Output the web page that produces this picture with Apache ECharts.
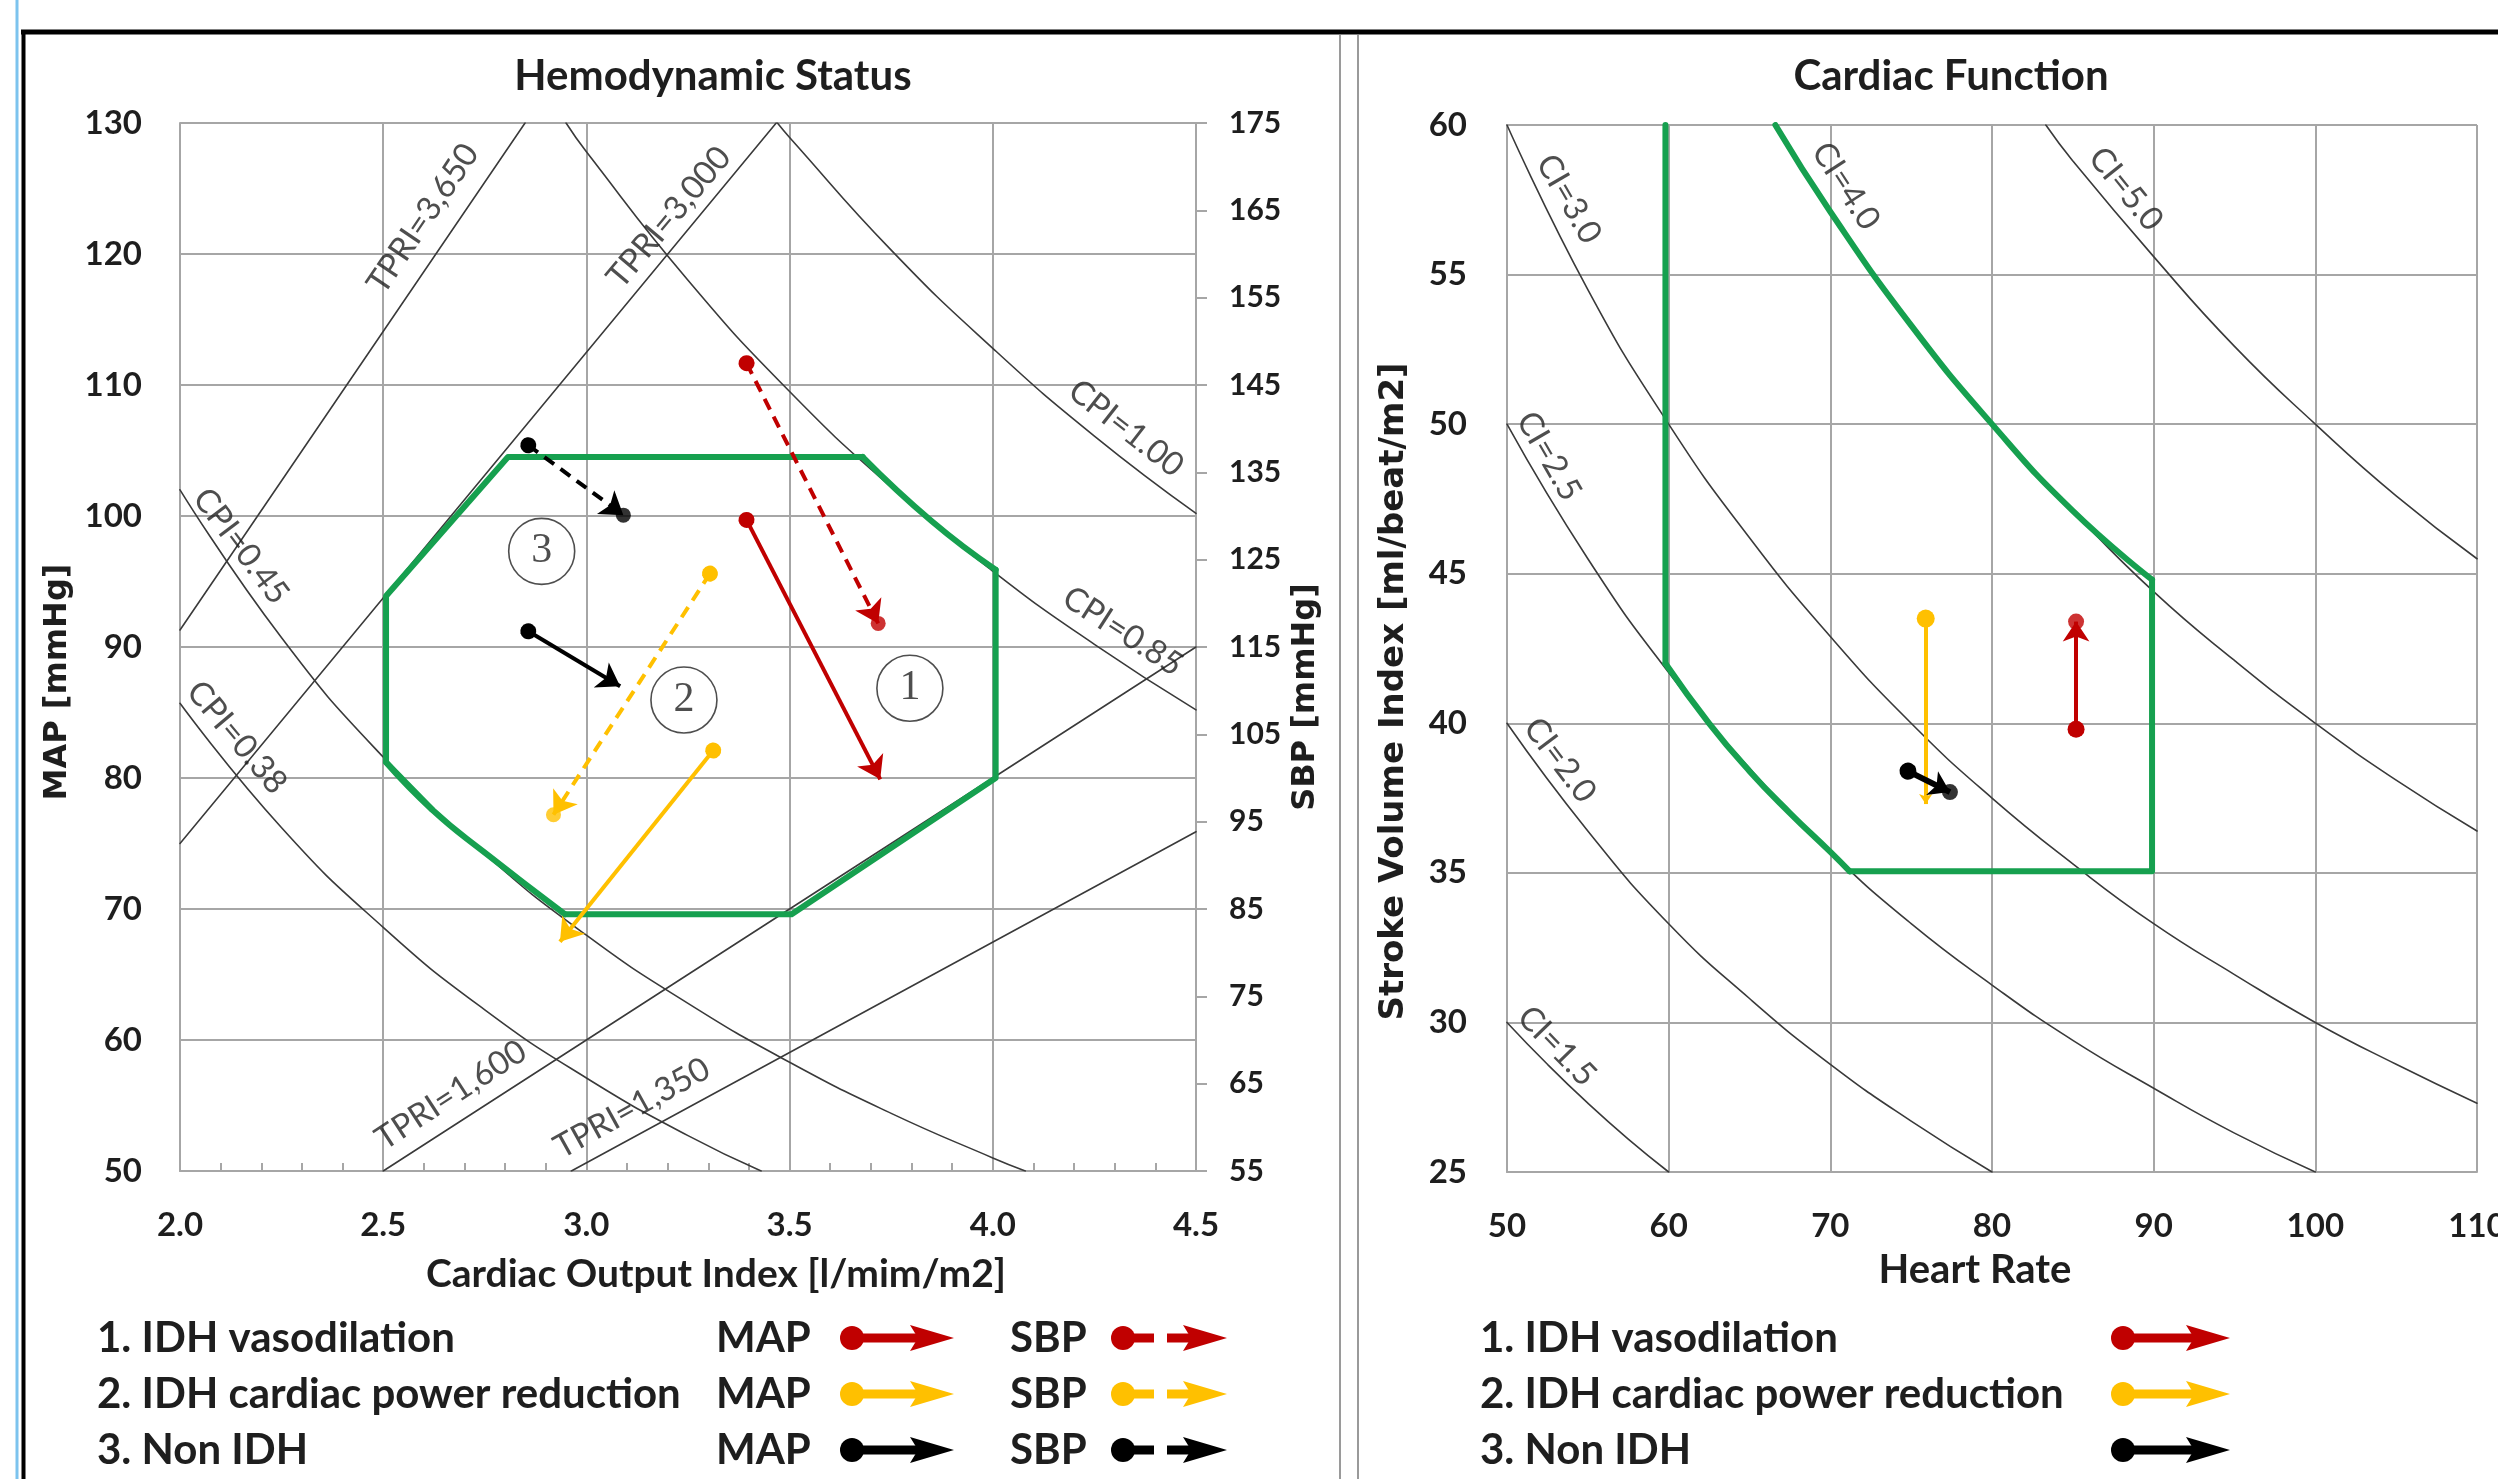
<!DOCTYPE html>
<html><head><meta charset="utf-8">
<script src="https://cdn.jsdelivr.net/npm/echarts@6/dist/echarts.min.js"></script>
<style>html,body{margin:0;padding:0;background:#fff}#main{width:2498px;height:1479px}</style>
</head><body><div id="main"></div>
<script>
// ================= DATA =================
const groupNames = ['1. IDH vasodilation', '2. IDH cardiac power reduction', '3. Non IDH'];

// Hemodynamic Status: x = Cardiac Output Index, left y = MAP, right y = SBP
const hemoTitle = 'Hemodynamic Status';
const mapStart = [[3.394, 99.7], [3.312, 82.1], [2.857, 91.2]];
const mapEnd   = [[3.723, 79.9], [2.935, 67.5], [3.083, 87.0]];
const sbpStart = [[3.394, 147.5], [3.304, 123.4], [2.857, 138.1]];
const sbpEnd   = [[3.718, 117.7], [2.919, 95.8], [3.091, 130.1]];

const tpriNames = ['TPRI=3,650', 'TPRI=3,000', 'TPRI=1,600', 'TPRI=1,350'];
const tpriLines = [
  [[2.0, 91.3], [2.849, 130]],
  [[2.0, 75.0], [3.467, 130]],
  [[2.5, 50], [4.5, 90]],
  [[2.963, 50], [4.5, 75.9]]
];
const cpiNames = ['CPI=1.00', 'CPI=0.85', 'CPI=0.45', 'CPI=0.38'];
const cpiCurves = [
  [[3.47, 130], [3.5, 128.9], [3.75, 120.3], [4.0, 112.8], [4.25, 106.1], [4.5, 100.2]],
  [[2.95, 130], [3.0, 127.8], [3.25, 118.0], [3.5, 109.5], [3.75, 102.2], [4.0, 95.8], [4.25, 90.2], [4.5, 85.2]],
  [[2.0, 102.0], [2.25, 90.7], [2.5, 81.6], [2.75, 74.2], [3.0, 68.0], [3.25, 62.8], [3.5, 58.3], [3.75, 54.4], [4.0, 51.0], [4.08, 50]],
  [[2.0, 85.7], [2.25, 76.2], [2.5, 68.6], [2.75, 62.3], [3.0, 57.1], [3.25, 52.7], [3.43, 50]]
];
// normal range outline, split into straight and curved stretches
const hemoNormalStraight = [[2.62, 77.6], [2.507, 81.2], [2.507, 93.9], [2.807, 104.5], [3.68, 104.5]];
const hemoNormalUpperCurve = [[3.68, 104.5], [3.85, 99.6], [4.007, 95.9]];
const hemoNormalRight = [[4.007, 95.9], [4.007, 80.0], [3.505, 69.6], [2.947, 69.6]];
const hemoNormalLowerCurve = [[2.947, 69.6], [2.75, 74.3], [2.62, 77.6], [2.507, 81.2]];

const hemoLabels = [['TPRI=3,650', 2.598, 122.7], ['TPRI=3,000', 3.203, 122.8], ['CPI=1.00', 4.328, 106.7],
  ['CPI=0.85', 4.32, 91.2], ['CPI=0.45', 2.15, 97.7], ['CPI=0.38', 2.14, 83.1],
  ['TPRI=1,600', 2.667, 55.8], ['TPRI=1,350', 3.112, 54.8]];
const stepMarks = [['1', 3.796, 86.85], ['2', 3.24, 85.95], ['3', 2.89, 97.3]];

const coiTicks = {min: 2.0, max: 4.5, step: 0.5};
const mapTicks = {min: 50, max: 130, step: 10};
const sbpTicks = {min: 55, max: 175, step: 10};

// Cardiac Function: x = Heart Rate, y = Stroke Volume Index
const cfTitle = 'Cardiac Function';
const cfStart = [[85.2, 39.8], [75.9, 43.5], [74.8, 38.4]];
const cfEnd   = [[85.2, 43.4], [75.9, 37.3], [77.4, 37.7]];
const cfEndHasDot = [true, false, true];

const ciNames = ['CI=1.5', 'CI=2.0', 'CI=2.5', 'CI=3.0', 'CI=4.0', 'CI=5.0'];
const ciCurves = [
  [[50, 30], [52.5, 28.6], [55, 27.3], [57.5, 26.1], [60, 25]],
  [[50, 40], [55, 36.4], [60, 33.3], [65, 30.8], [70, 28.6], [75, 26.7], [80, 25]],
  [[50, 50], [55, 45.5], [60, 41.7], [65, 38.5], [70, 35.7], [75, 33.3], [80, 31.25], [85, 29.4], [90, 27.8], [95, 26.3], [100, 25]],
  [[50, 60], [55, 54.5], [60, 50], [65, 46.2], [70, 42.9], [75, 40], [80, 37.5], [85, 35.3], [90, 33.3], [95, 31.6], [100, 30], [105, 28.6], [110, 27.3]],
  [[66.67, 60], [70, 57.1], [75, 53.3], [80, 50], [85, 47.1], [90, 44.4], [95, 42.1], [100, 40], [105, 38.1], [110, 36.4]],
  [[83.33, 60], [85, 58.8], [90, 55.6], [95, 52.6], [100, 50], [105, 47.6], [110, 45.5]]
];
const cfNormalLeft = [[59.8, 60], [59.8, 42.0]];
const cfNormalLowerCurve = [[59.8, 42.0], [62.5, 40.0], [65, 38.4], [67.5, 37.0], [70, 35.7], [71.2, 35.05]];
const cfNormalRight = [[71.2, 35.05], [89.9, 35.05], [89.9, 44.8]];
const cfNormalUpperCurve = [[89.9, 44.8], [85, 47.1], [80, 50.0], [75, 53.3], [70, 57.1], [66.6, 60]];
const cfLabels = [['CI=3.0', 53.83, 57.53], ['CI=4.0', 70.96, 57.96], ['CI=5.0', 88.28, 57.86],
  ['CI=2.5', 52.6, 48.93], ['CI=2.0', 53.28, 38.77], ['CI=1.5', 53.09, 29.21]];

const hrTicks = {min: 50, max: 110, step: 10};
const sviTicks = {min: 25, max: 60, step: 5};

// ================= STYLE =================
const groupColors = ['#c00000', '#ffc000', '#000000'];
const green = '#16a04f';
const isoColor = '#3a3a3a';
const gridColor = '#a6a6a6';
const txt = '#1e1e1e';
const FONT = 'Lato, "Open Sans", sans-serif';
const hemoLabelRotate = [56, 50, -38, -33, -53, -50, 33, 29];
const cfLabelRotate = [-60, -57, -51, -60, -53, -46];

// ================= BUILD =================
const series = [];
function addLine(data, xi, yi, color, width, smooth, z) {
  series.push({type: 'line', xAxisIndex: xi, yAxisIndex: yi, data: data, symbol: 'none', silent: true,
    smooth: smooth ? 0.5 : false,
    lineStyle: {color: color, width: width, cap: 'round', join: 'round'}, z: z});
}
tpriLines.forEach(d => addLine(d, 0, 0, isoColor, 1.6, false, 2));
cpiCurves.forEach(d => addLine(d, 0, 0, isoColor, 1.6, true, 2));
addLine(hemoNormalStraight, 0, 0, green, 6, false, 3);
addLine(hemoNormalUpperCurve, 0, 0, green, 6, true, 3);
addLine(hemoNormalRight, 0, 0, green, 6, false, 3);
addLine(hemoNormalLowerCurve, 0, 0, green, 6, true, 3);
ciCurves.forEach(d => addLine(d, 1, 2, isoColor, 1.6, true, 2));
addLine(cfNormalLeft, 1, 2, green, 6, false, 3);
addLine(cfNormalLowerCurve, 1, 2, green, 6, true, 3);
addLine(cfNormalRight, 1, 2, green, 6, false, 3);
addLine(cfNormalUpperCurve, 1, 2, green, 6, true, 3);

function labelSeries(list, rot, xi, yi, size) {
  series.push({type: 'scatter', xAxisIndex: xi, yAxisIndex: yi, silent: true, symbolSize: 1,
    itemStyle: {color: 'rgba(0,0,0,0)'}, z: 4,
    data: list.map((l, i) => ({name: l[0], value: [l[1], l[2]], label: {rotate: rot[i]}})),
    label: {show: true, position: 'inside', formatter: p => p.name, fontSize: size, fontFamily: FONT,
      color: '#222'}});
}
labelSeries(hemoLabels, hemoLabelRotate, 0, 0, 33);
labelSeries(cfLabels, cfLabelRotate, 1, 2, 33);

series.push({type: 'scatter', xAxisIndex: 0, yAxisIndex: 0, silent: true, symbol: 'circle', symbolSize: 66, z: 4,
  itemStyle: {color: 'rgba(255,255,255,0)', borderColor: '#222', borderWidth: 1.6},
  data: stepMarks.map(m => ({name: m[0], value: [m[1], m[2]]})),
  label: {show: true, position: 'inside', formatter: p => p.name, fontSize: 42, fontFamily: '"Liberation Serif", serif', color: '#222'}});

function arrowSeries(starts, ends, xi, yi, color, dashed, sizes, width) {
  series.push({type: 'lines', coordinateSystem: 'cartesian2d', xAxisIndex: xi, yAxisIndex: yi, silent: true, z: 6,
    symbol: ['circle', 'arrow'], symbolSize: sizes,
    lineStyle: {color: color, width: width || 4, type: dashed ? [12, 8] : 'solid', opacity: 1},
    data: [{coords: [starts, ends]}]});
}
for (let i = 0; i < 3; i++) {
  arrowSeries(mapStart[i], mapEnd[i], 0, 0, groupColors[i], false, [16, 22]);
  arrowSeries(sbpStart[i], sbpEnd[i], 0, 1, groupColors[i], true, [16, 22]);
  arrowSeries(cfStart[i], cfEnd[i], 1, 2, groupColors[i], false, i === 1 ? [18, 10] : [17, 20], i === 2 ? 6 : 4);
}
series.push({type: 'scatter', xAxisIndex: 0, yAxisIndex: 1, silent: true, symbolSize: 15, z: 7,
  data: sbpEnd.map((p, i) => ({value: p, itemStyle: {color: groupColors[i]}}))});
series.push({type: 'scatter', xAxisIndex: 1, yAxisIndex: 2, silent: true, symbolSize: 16, z: 7,
  data: cfEnd.map((p, i) => cfEndHasDot[i] ? ({value: p, itemStyle: {color: groupColors[i]}}) : null).filter(Boolean)});

const tickLabel = {fontSize: 33, fontWeight: 'bold', fontFamily: FONT, color: txt};
const splitL = {show: true, lineStyle: {color: gridColor, width: 2}};
const axLine = {show: true, lineStyle: {color: gridColor, width: 2}};

const xAxes = [
  {type: 'value', gridIndex: 0, min: coiTicks.min, max: coiTicks.max, interval: coiTicks.step,
    axisLine: axLine, splitLine: splitL,
    axisTick: {show: true, inside: true, length: 8, lineStyle: {color: gridColor, width: 2}},
    minorTick: {show: true, splitNumber: 5, length: 8, lineStyle: {color: gridColor, width: 2}},
    axisLabel: Object.assign({margin: 38, formatter: v => v.toFixed(1)}, tickLabel),
    name: 'Cardiac Output Index [l/mim/m2]', nameLocation: 'middle', nameGap: 84, nameMoveOverlap: false,
    nameTextStyle: {fontSize: 39, fontWeight: 'bold', fontFamily: FONT, color: txt, padding: [0, 0, 0, 56]}},
  {type: 'value', gridIndex: 1, min: hrTicks.min, max: hrTicks.max, interval: hrTicks.step,
    axisLine: axLine, splitLine: splitL, axisTick: {show: false},
    axisLabel: Object.assign({margin: 38}, tickLabel),
    name: 'Heart Rate', nameLocation: 'middle', nameGap: 78, nameMoveOverlap: false,
    nameTextStyle: {fontSize: 40, fontWeight: 'bold', fontFamily: FONT, color: txt, padding: [0, 34, 0, 0]}}
];
const yAxes = [
  {type: 'value', gridIndex: 0, min: mapTicks.min, max: mapTicks.max, interval: mapTicks.step,
    axisLine: axLine, splitLine: splitL, axisTick: {show: false},
    axisLabel: Object.assign({margin: 38}, tickLabel),
    name: 'MAP [mmHg]', nameLocation: 'middle', nameRotate: 90, nameGap: 106, nameMoveOverlap: false,
    nameTextStyle: {fontSize: 32, fontWeight: 'bold', fontFamily: '"DejaVu Sans", sans-serif', color: txt, padding: [0, 70, 0, 0]}},
  {type: 'value', gridIndex: 0, position: 'right', min: sbpTicks.min, max: sbpTicks.max, interval: sbpTicks.step,
    axisLine: axLine, splitLine: {show: false},
    axisTick: {show: true, inside: false, length: 11, lineStyle: {color: gridColor, width: 2}},
    axisLabel: Object.assign({}, tickLabel, {margin: 33, fontSize: 30}),
    name: 'SBP [mmHg]', nameLocation: 'middle', nameRotate: 90, nameGap: 94, nameMoveOverlap: false,
    nameTextStyle: {fontSize: 32, fontWeight: 'bold', fontFamily: '"DejaVu Sans", sans-serif', color: txt, padding: [0, 100, 0, 0]}},
  {type: 'value', gridIndex: 1, min: sviTicks.min, max: sviTicks.max, interval: sviTicks.step,
    axisLine: axLine, splitLine: splitL, axisTick: {show: false},
    axisLabel: Object.assign({margin: 40}, tickLabel),
    name: 'Stroke Volume Index [ml/beat/m2]', nameLocation: 'middle', nameRotate: 90, nameGap: 96, nameMoveOverlap: false,
    nameTextStyle: {fontSize: 34, fontWeight: 'bold', fontFamily: '"DejaVu Sans", sans-serif', color: txt, padding: [0, 86, 0, 0]}}
];

// ---------- legend + frame graphics ----------
const graphic = [];
graphic.push({type: 'line', shape: {x1: 17, y1: 0, x2: 17, y2: 1479}, style: {stroke: '#7cc3ee', lineWidth: 3}, silent: true});
graphic.push({type: 'line', shape: {x1: 21, y1: 32, x2: 2498, y2: 32}, style: {stroke: '#000', lineWidth: 5}, silent: true});
graphic.push({type: 'line', shape: {x1: 23.5, y1: 30, x2: 23.5, y2: 1479}, style: {stroke: '#000', lineWidth: 4}, silent: true});
graphic.push({type: 'line', shape: {x1: 1340, y1: 35, x2: 1340, y2: 1479}, style: {stroke: '#9a9a9a', lineWidth: 2}, silent: true});
graphic.push({type: 'line', shape: {x1: 1358, y1: 35, x2: 1358, y2: 1479}, style: {stroke: '#9a9a9a', lineWidth: 2}, silent: true});
graphic.push({type: 'text', x: 713, y: 76, style: {text: hemoTitle, font: 'bold 42px ' + FONT, fill: txt, textAlign: 'center', textVerticalAlign: 'middle'}});
graphic.push({type: 'text', x: 1951, y: 76, style: {text: cfTitle, font: 'bold 42px ' + FONT, fill: txt, textAlign: 'center', textVerticalAlign: 'middle'}});

const rowsY = [1338, 1394, 1450];
function glyph(x0, y, color, dashed, x1) {
  const els = [];
  const ls = {stroke: color, lineWidth: 9};
  if (dashed) {
    els.push({type: 'line', shape: {x1: x0, y1: y, x2: x0 + 31, y2: y}, style: ls});
    els.push({type: 'line', shape: {x1: x0 + 44, y1: y, x2: x1 - 30, y2: y}, style: ls});
  } else {
    els.push({type: 'line', shape: {x1: x0, y1: y, x2: x1 - 30, y2: y}, style: ls});
  }
  els.push({type: 'circle', shape: {cx: x0, cy: y, r: 12}, style: {fill: color}});
  els.push({type: 'polygon', shape: {points: [[x1 - 44, y - 13], [x1, y], [x1 - 44, y + 13], [x1 - 36, y]]}, style: {fill: color}});
  return els;
}
const legFont = 'bold 42px ' + FONT;
rowsY.forEach((y, i) => {
  graphic.push({type: 'text', x: 97, y: y, style: {text: groupNames[i], font: legFont, fill: txt, textVerticalAlign: 'middle'}});
  graphic.push({type: 'text', x: 716, y: y, style: {text: 'MAP', font: legFont, fill: txt, textVerticalAlign: 'middle'}});
  graphic.push({type: 'text', x: 1010, y: y, style: {text: 'SBP', font: legFont, fill: txt, textVerticalAlign: 'middle'}});
  glyph(852, y, groupColors[i], false, 954).forEach(e => graphic.push(Object.assign(e, {silent: true})));
  glyph(1123, y, groupColors[i], true, 1227).forEach(e => graphic.push(Object.assign(e, {silent: true})));
  graphic.push({type: 'text', x: 1480, y: y, style: {text: groupNames[i], font: legFont, fill: txt, textVerticalAlign: 'middle'}});
  glyph(2123, y, groupColors[i], false, 2230).forEach(e => graphic.push(Object.assign(e, {silent: true})));
});

const chart = echarts.init(document.getElementById('main'), null, {renderer: 'canvas'});
chart.setOption({
  backgroundColor: '#ffffff',
  animation: false,
  grid: [
    {left: 180, right: 2498 - 1196, top: 123, bottom: 1479 - 1171, containLabel: false, outerBoundsMode: 'none'},
    {left: 1507, right: 2498 - 2477, top: 125, bottom: 1479 - 1172, containLabel: false, outerBoundsMode: 'none'}
  ],
  xAxis: xAxes,
  yAxis: yAxes,
  series: series,
  graphic: graphic
});
</script></body></html>
